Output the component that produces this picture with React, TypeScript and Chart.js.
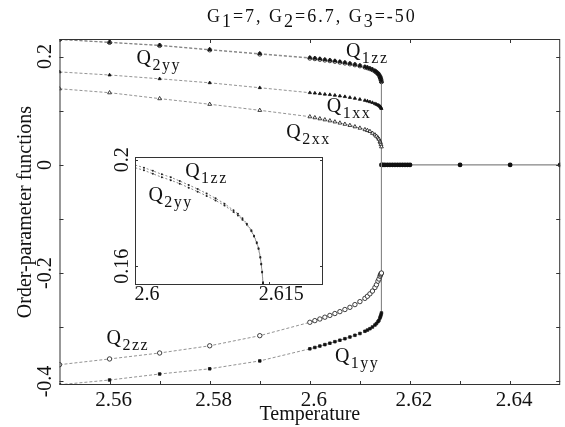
import React, { useEffect, useRef } from "react";
import { Chart, registerables } from "chart.js";

Chart.register(...registerables);

const FONT = '"Liberation Serif", "Times New Roman", serif';
const INK = "#111";
Chart.defaults.font.family = FONT;
Chart.defaults.color = INK;

// Temperatures of the ordered phase (shared by all six order parameters)
const T_ORDERED = [
  2.55, 2.56, 2.57, 2.58, 2.59, 2.6, 2.601, 2.602, 2.603, 2.604, 2.605, 2.606, 2.607, 2.608,
  2.609, 2.61, 2.611, 2.6115, 2.612, 2.6125, 2.613, 2.6133, 2.6136, 2.6138, 2.614, 2.6141,
  2.6142, 2.6143,
];
const Q1ZZ = [
  0.232, 0.2265, 0.221, 0.213, 0.2055, 0.198, 0.197, 0.1958, 0.1945, 0.1934, 0.192, 0.1905,
  0.189, 0.1873, 0.1855, 0.1835, 0.181, 0.1797, 0.178, 0.176, 0.1735, 0.1715, 0.169, 0.1668,
  0.1635, 0.161, 0.158, 0.154,
];
const Q2YY = [
  0.2315, 0.226, 0.2203, 0.2122, 0.2045, 0.197, 0.196, 0.1947, 0.1934, 0.1923, 0.191, 0.1895,
  0.188, 0.1864, 0.1847, 0.1828, 0.1804, 0.1791, 0.1775, 0.1756, 0.1732, 0.1712, 0.1687, 0.1665,
  0.1632, 0.1607, 0.1577, 0.1535,
];
const Q1XX = [
  0.1717, 0.166, 0.159, 0.1516, 0.1425, 0.1333, 0.1325, 0.1315, 0.1305, 0.1297, 0.1285, 0.1272,
  0.126, 0.1245, 0.1228, 0.121, 0.119, 0.1178, 0.1165, 0.115, 0.113, 0.1117, 0.1105, 0.1095,
  0.108, 0.107, 0.1055, 0.104,
];
const Q2XX = [
  0.1406, 0.1333, 0.1224, 0.112, 0.1008, 0.089, 0.0872, 0.0853, 0.0834, 0.0815, 0.0795, 0.0774,
  0.0752, 0.073, 0.0705, 0.068, 0.0652, 0.0636, 0.0618, 0.0585, 0.0555, 0.053, 0.05, 0.0475,
  0.0435, 0.041, 0.0375, 0.0335,
];
const Q2ZZ = [
  -0.369, -0.3584, -0.3474, -0.3341, -0.3154, -0.2907, -0.2876, -0.2846, -0.2813, -0.278,
  -0.2745, -0.271, -0.2671, -0.2631, -0.258, -0.2525, -0.2465, -0.2426, -0.2381, -0.233,
  -0.2265, -0.2214, -0.2148, -0.2108, -0.2057, -0.2032, -0.2012, -0.1997,
];
const Q1YY = [
  -0.406, -0.3973, -0.3862, -0.3766, -0.362, -0.3397, -0.3372, -0.3346, -0.3319, -0.3293,
  -0.3265, -0.3238, -0.321, -0.3179, -0.3147, -0.3114, -0.3073, -0.3051, -0.3025, -0.2994,
  -0.2957, -0.293, -0.2896, -0.2871, -0.2826, -0.28, -0.2772, -0.2735,
];

// Disordered phase: all order parameters vanish
const T_DISORDERED = [
  2.6143, 2.6146, 2.615, 2.6155, 2.616, 2.6165, 2.617, 2.6175, 2.618, 2.6185, 2.619, 2.6195,
  2.62, 2.63, 2.64, 2.65,
];
const Q_DISORDERED = [0, 0, 0, 0, 0, 0, 0, 0, 0, 0, 0, 0, 0, 0, 0, 0];

// Axes
const X_TICKS = [2.56, 2.58, 2.6, 2.62, 2.64];
const X_MINOR_TICKS = [2.56, 2.57, 2.58, 2.59, 2.6, 2.61, 2.62, 2.63, 2.64];
const Y_TICKS = [0.2, 0, -0.2, -0.4];
const Y_MINOR_TICKS = [0.2, 0.1, 0, -0.1, -0.2, -0.3, -0.4];
const INSET_X_TICKS = [2.6, 2.615];
const INSET_Y_TICKS = [0.2, 0.16];

const TITLE_PARTS: [string, boolean][] = [
  ["G", false], ["1", true], ["=7, G", false], ["2", true], ["=6.7, G", false], ["3", true], ["=-50", false],
];

// Curve labels, anchored in data coordinates
const CURVE_LABELS = [
  { sub: "2yy", t: 2.5654, v: 0.1863 },
  { sub: "1zz", t: 2.6072, v: 0.1993 },
  { sub: "1xx", t: 2.6034, v: 0.0977 },
  { sub: "2xx", t: 2.5953, v: 0.0497 },
  { sub: "2zz", t: 2.5594, v: -0.3308 },
  { sub: "1yy", t: 2.605, v: -0.364 },
];
const INSET_LABELS = [
  { sub: "1zz", t: 2.6056, v: 0.1935 },
  { sub: "2yy", t: 2.6015, v: 0.1845 },
];

const SERIES = [
  { name: "Q1zz", values: Q1ZZ, pointStyle: "triangle", filled: true, radius: 2.2 },
  { name: "Q2yy", values: Q2YY, pointStyle: "circle", filled: false, radius: 2 },
  { name: "Q1xx", values: Q1XX, pointStyle: "triangle", filled: true, radius: 1.8 },
  { name: "Q2xx", values: Q2XX, pointStyle: "triangle", filled: false, radius: 2.2 },
  { name: "Q2zz", values: Q2ZZ, pointStyle: "circle", filled: false, radius: 2.2 },
  { name: "Q1yy", values: Q1YY, pointStyle: "rect", filled: true, radius: 1.8 },
];

const mkData = (xs: number[], ys: number[]) => xs.map((x, i) => ({ x, y: ys[i] }));
const last = (a: number[]) => a[a.length - 1];

function drawParts(ctx: CanvasRenderingContext2D, x: number, y: number, parts: [string, boolean][], size: number, subSize: number, subDy: number, spacing: number) {
  let cx = x;
  ctx.textAlign = "left";
  ctx.textBaseline = "alphabetic";
  (ctx as any).letterSpacing = spacing + "px";
  for (const [t, sub] of parts) {
    ctx.font = `${sub ? subSize : size}px ${FONT}`;
    ctx.fillText(t, cx, sub ? y + subDy : y);
    cx += ctx.measureText(t).width;
  }
  (ctx as any).letterSpacing = "0px";
  return cx - x;
}

function measureParts(ctx: CanvasRenderingContext2D, parts: [string, boolean][], size: number, subSize: number, spacing: number) {
  let w = 0;
  (ctx as any).letterSpacing = spacing + "px";
  for (const [t, sub] of parts) {
    ctx.font = `${sub ? subSize : size}px ${FONT}`;
    w += ctx.measureText(t).width;
  }
  (ctx as any).letterSpacing = "0px";
  return w;
}

function drawFrame(chart: any, xBottom: number[], xTop: number[], yTicks: number[], len: number) {
  const { ctx, chartArea: a, scales } = chart;
  const x = scales.x, y = scales.y;
  ctx.save();
  ctx.strokeStyle = "#333";
  ctx.lineWidth = 1;
  ctx.strokeRect(a.left + 0.5, a.top + 0.5, a.right - a.left - 1, a.bottom - a.top - 1);
  ctx.beginPath();
  for (const v of xBottom) {
    const px = Math.round(x.getPixelForValue(v)) + 0.5;
    ctx.moveTo(px, a.bottom);
    ctx.lineTo(px, a.bottom - len);
  }
  for (const v of xTop) {
    const px = Math.round(x.getPixelForValue(v)) + 0.5;
    ctx.moveTo(px, a.top);
    ctx.lineTo(px, a.top + len);
  }
  for (const v of yTicks) {
    const py = Math.round(y.getPixelForValue(v)) + 0.5;
    ctx.moveTo(a.left, py);
    ctx.lineTo(a.left + len, py);
    ctx.moveTo(a.right, py);
    ctx.lineTo(a.right - len, py);
  }
  ctx.stroke();
  ctx.restore();
}

function drawYLabels(chart: any, ticks: number[], xPos: number) {
  const { ctx, scales } = chart;
  ctx.save();
  ctx.fillStyle = INK;
  ctx.font = `20px ${FONT}`;
  ctx.textAlign = "center";
  ctx.textBaseline = "middle";
  for (const v of ticks) {
    const py = scales.y.getPixelForValue(v);
    ctx.save();
    ctx.translate(xPos, py);
    ctx.rotate(-Math.PI / 2);
    ctx.fillText(String(v), 0, 0);
    ctx.restore();
  }
  ctx.restore();
}

function drawCurveLabels(chart: any, labels: { sub: string; t: number; v: number }[]) {
  const { ctx, scales } = chart;
  ctx.save();
  ctx.fillStyle = INK;
  for (const l of labels) {
    const px = scales.x.getPixelForValue(l.t);
    const py = scales.y.getPixelForValue(l.v);
    drawParts(ctx, px, py, [["Q", false], [l.sub, true]], 20, 16, 6, 1.5);
  }
  ctx.restore();
}

const mainDecor = {
  id: "mainDecor",
  afterDraw(chart: any) {
    drawFrame(chart, X_MINOR_TICKS, X_TICKS, Y_MINOR_TICKS, 4);
    drawYLabels(chart, Y_TICKS, 46);
    drawCurveLabels(chart, CURVE_LABELS);
    const { ctx, chartArea: a } = chart;
    ctx.save();
    ctx.fillStyle = INK;
    const w = measureParts(ctx, TITLE_PARTS, 18, 18, 2);
    drawParts(ctx, (a.left + a.right) / 2 - w / 2 + 2, 22, TITLE_PARTS, 18, 18, 5, 2);
    ctx.restore();
  },
};

const insetDecor = {
  id: "insetDecor",
  beforeDraw(chart: any) {
    const { ctx, chartArea: a } = chart;
    ctx.save();
    ctx.fillStyle = "#fff";
    ctx.fillRect(a.left, a.top, a.right - a.left, a.bottom - a.top);
    ctx.restore();
  },
  afterDraw(chart: any) {
    drawFrame(chart, INSET_X_TICKS, [], INSET_Y_TICKS, 3);
    drawYLabels(chart, INSET_Y_TICKS, 28);
    drawCurveLabels(chart, INSET_LABELS);
  },
};

function mainDatasets(): any[] {
  const ds: any[] = SERIES.map((s) => ({
    label: s.name,
    data: mkData(T_ORDERED, s.values),
    showLine: true,
    borderColor: "#777",
    borderWidth: 0.8,
    borderDash: [3, 2],
    pointStyle: s.pointStyle,
    pointRadius: s.radius,
    pointBackgroundColor: s.filled ? INK : "#fff",
    pointBorderColor: INK,
    pointBorderWidth: 0.8,
  }));
  ds.push({
    label: "transition",
    data: [
      { x: last(T_ORDERED), y: last(Q1ZZ) },
      { x: last(T_ORDERED), y: last(Q1YY) },
    ],
    showLine: true,
    borderColor: "#888",
    borderWidth: 0.8,
    pointRadius: 0,
  });
  ds.push({
    label: "disordered",
    data: mkData(T_DISORDERED, Q_DISORDERED),
    showLine: true,
    borderColor: "#666",
    borderWidth: 1,
    pointRadius: 2.4,
    pointBackgroundColor: INK,
    pointBorderColor: INK,
    pointBorderWidth: 0,
  });
  return ds;
}

function insetDatasets(): any[] {
  const pick = SERIES.filter((s) => s.name === "Q1zz" || s.name === "Q2yy");
  const ds: any[] = pick.map((s) => ({
    label: s.name,
    data: mkData(T_ORDERED, s.values),
    showLine: true,
    borderColor: "#555",
    borderWidth: 0.7,
    borderDash: [2, 2],
    pointRadius: 1,
    pointBackgroundColor: "#222",
    pointBorderColor: "#222",
    pointBorderWidth: 0,
  }));
  ds.push({
    label: "transition",
    data: [
      { x: last(T_ORDERED), y: last(Q1ZZ) },
      { x: last(T_ORDERED), y: last(Q1YY) },
    ],
    showLine: true,
    borderColor: "#333",
    borderWidth: 1,
    pointRadius: 0,
  });
  return ds;
}

export default function App() {
  const mainRef = useRef<HTMLCanvasElement>(null);
  const insetRef = useRef<HTMLCanvasElement>(null);

  useEffect(() => {
    const main = new Chart(mainRef.current as HTMLCanvasElement, {
      type: "scatter",
      data: { datasets: mainDatasets() },
      options: {
        animation: false,
        responsive: false,
        devicePixelRatio: 1,
        layout: { padding: { top: 39, right: 1, bottom: 0, left: 0 } },
        plugins: { legend: { display: false }, tooltip: { enabled: false }, title: { display: false } },
        scales: {
          x: {
            type: "linear",
            min: 2.55,
            max: 2.65,
            afterBuildTicks: (s: any) => {
              s.ticks = X_TICKS.map((value) => ({ value }));
            },
            afterFit: (s: any) => {
              s.height = 42;
            },
            grid: { display: false, drawTicks: false },
            border: { display: false },
            ticks: {
              color: INK,
              font: { family: FONT, size: 21, lineHeight: 1 },
              padding: 5,
              labelOffset: 4,
              maxRotation: 0,
              minRotation: 0,
              autoSkip: false,
              callback: (v: any) => String(v),
            },
            title: {
              display: true,
              text: "Temperature",
              color: INK,
              font: { family: FONT, size: 20, lineHeight: 1.2 },
              padding: { top: 0, bottom: 0 },
            },
          },
          y: {
            type: "linear",
            min: -0.4065,
            max: 0.2325,
            afterBuildTicks: (s: any) => {
              s.ticks = Y_TICKS.map((value) => ({ value }));
            },
            afterFit: (s: any) => {
              s.width = 59.5;
            },
            grid: { display: false, drawTicks: false },
            border: { display: false },
            ticks: { display: false },
            title: {
              display: true,
              text: "Order-parameter functions",
              color: INK,
              font: { family: FONT, size: 20, lineHeight: 1.2 },
              padding: { top: 14, bottom: 0 },
            },
          },
        },
      } as any,
      plugins: [mainDecor],
    });

    const inset = new Chart(insetRef.current as HTMLCanvasElement, {
      type: "scatter",
      data: { datasets: insetDatasets() },
      options: {
        animation: false,
        responsive: false,
        devicePixelRatio: 1,
        layout: { padding: { top: 12, right: 12, bottom: 0, left: 0 } },
        plugins: { legend: { display: false }, tooltip: { enabled: false }, title: { display: false } },
        scales: {
          x: {
            type: "linear",
            min: 2.6,
            max: 2.621,
            afterBuildTicks: (s: any) => {
              s.ticks = INSET_X_TICKS.map((value) => ({ value }));
            },
            afterFit: (s: any) => {
              s.height = 25;
            },
            grid: { display: false, drawTicks: false },
            border: { display: false },
            ticks: {
              color: INK,
              font: { family: FONT, size: 20, lineHeight: 1 },
              padding: 0,
              labelOffset: 12,
              maxRotation: 0,
              minRotation: 0,
              autoSkip: false,
              callback: (v: any) => String(v),
            },
          },
          y: {
            type: "linear",
            min: 0.153,
            max: 0.201,
            afterBuildTicks: (s: any) => {
              s.ticks = INSET_Y_TICKS.map((value) => ({ value }));
            },
            afterFit: (s: any) => {
              s.width = 40;
            },
            grid: { display: false, drawTicks: false },
            border: { display: false },
            ticks: { display: false },
          },
        },
      } as any,
      plugins: [insetDecor],
    });

    return () => {
      main.destroy();
      inset.destroy();
    };
  }, []);

  return (
    <div style={{ position: "fixed", left: 0, top: 0, width: 565, height: 427, background: "#fff" }}>
      <canvas ref={mainRef} width={565} height={427} style={{ position: "absolute", left: 0, top: 0, width: 565, height: 427 }} />
      <canvas ref={insetRef} width={240} height={165} style={{ position: "absolute", left: 95, top: 145, width: 240, height: 165 }} />
    </div>
  );
}
